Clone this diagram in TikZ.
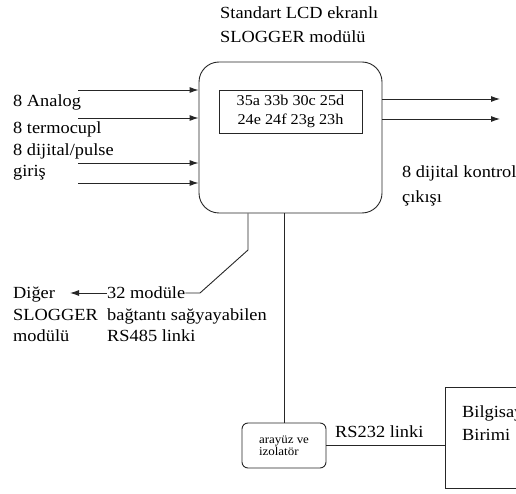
\documentclass[tikz,border=0pt]{standalone}
\usepackage{fontspec}
\setmainfont{Liberation Serif}[FakeStretch=1.08]
\usetikzlibrary{arrows.meta,positioning,calc}

\begin{document}
\begin{tikzpicture}[x=1pt, y=-1pt,
    txt/.style={font=\fontsize{17}{22}\selectfont, align=left, inner sep=0pt, anchor=base west},
    line/.style={draw=black!85, line width=0.9pt},
    arr/.style={line, -{Latex[length=9pt,width=6pt]}},
    modbox/.style={line, rounded corners=20pt, minimum width=183pt, minimum height=151pt},
    lcdbox/.style={line, minimum width=143pt, minimum height=43pt, align=center,
                   font=\fontsize{15}{19}\selectfont}
]
    \useasboundingbox (0,0) rectangle (516,494);

    % the module and its LCD
    \node[modbox] (mod) at (290.5,137.5) {};
    \node[lcdbox] (lcd) at (290.5,111.5) {35a 33b 30c 25d\\24e 24f 23g 23h};
    \node[txt] (title1) at (220,19) {Standart LCD ekranl\i};
    \node[txt] (title2) at (220,43) {SLOGGER mod\"ul\"u};

    % inputs
    \foreach \y/\n in {90/1,118/2,163/3,183/4} {
        \coordinate (in\n) at (78,\y);
        \draw[arr] (in\n) -- (in\n -| mod.west);
    }
    \node[txt] (an1) at (13,107) {8 Analog};
    \node[txt] (an2) at (13,134) {8 termocupl};
    \node[txt] (an3) at (13,156) {8 dijital/pulse};
    \node[txt] (an4) at (13,177) {giri\c{s}};

    % outputs
    \foreach \y/\n in {99/1,119/2} {
        \coordinate (out\n) at (500,\y);
        \draw[arr] (out\n -| mod.east) -- (out\n);
    }
    \node[txt] (dk1) at (402,178) {8 dijital kontrol};
    \node[txt] (dk2) at (402,203) {\c{c}\i k\i\c{s}\i};

    % RS485 link to the other modules
    \node[txt] (rs1) at (107,298) {32 mod\"ule};
    \node[txt] (rs2) at (107,320) {ba\u{g}tant\i{} sa\u{g}yayabilen};
    \node[txt] (rs3) at (107,341) {RS485 linki};
    \node[txt] (dg1) at (13,298) {Di\u{g}er};
    \node[txt] (dg2) at (13,320) {SLOGGER};
    \node[txt] (dg3) at (13,341) {mod\"ul\"u};
    \coordinate (rsA) at (248,250);
    \coordinate (rsB) at (200,293);
    \coordinate (dgtip) at (70,293);
    \draw[line] (mod.south -| rsA) -- (rsA) -- (rsB) -- (rs1.east |- rsB);
    \draw[arr] (rs1.west |- dgtip) -- (dgtip);

    % interface and the computer
    \node[line, rounded corners=6pt, minimum width=84pt, minimum height=45pt,
          align=left, font=\fontsize{12}{12}\selectfont] (iso) at (284,445.5)
          {aray\"uz ve\\izolat\"or};
    \draw[line] (mod.south -| iso.north) -- (iso.north);
    \node[line, minimum width=115pt, minimum height=101pt] (pc) at (502.5,437.5) {};
    \node[txt] (pc1) at (462,417) {Bilgisayar};
    \node[txt] (pc2) at (462,440) {Birimi};
    \draw[line] (iso.east) -- (iso.east -| pc.west);
    \node[txt] (rs232) at (335,437) {RS232 linki};
\end{tikzpicture}
\end{document}
